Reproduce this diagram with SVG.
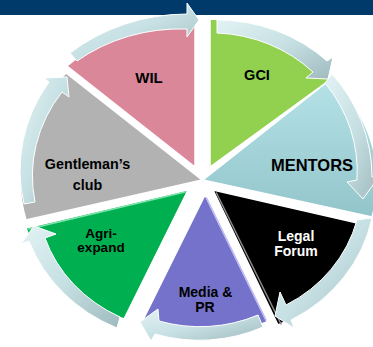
<svg xmlns="http://www.w3.org/2000/svg" width="373" height="347" viewBox="0 0 373 347">
  <defs>
    <linearGradient id="teal" x1="0" y1="0" x2="0" y2="1">
      <stop offset="0" stop-color="#B5E2E7"/>
      <stop offset="1" stop-color="#92C5CB"/>
    </linearGradient>
    <linearGradient id="arr" x1="0" y1="0" x2="1" y2="1">
      <stop offset="0" stop-color="#E2F2F4"/>
      <stop offset="0.5" stop-color="#C6E0E3"/>
      <stop offset="1" stop-color="#9FBABE"/>
    </linearGradient>
    <style>
      .w { stroke: #ffffff; stroke-width: 1.5; stroke-linejoin: round; }
      .hl { fill: none; stroke-width: 1.5; stroke-linecap: round; }
      .a { fill: url(#arr); stroke: #ffffff; stroke-width: 1; stroke-linejoin: round; }
      .t { font-family: "Liberation Sans", Arial, sans-serif; font-weight: bold; text-anchor: middle; fill: #000; }
      .wt { fill: #ffffff; }
    </style>
  </defs>
  <rect x="0" y="0" width="373" height="347" fill="#ffffff"/>
  <rect id="header" x="0" y="0" width="373" height="15" fill="#003A6B"/>

  <g id="node-wil">
    <path class="w" fill="#DB879A" d="M195,167 L67,66 A175,148 0 0 1 195,19 Z"/>
    <text class="t" x="149" y="83" font-size="15">WIL</text>
  </g>
  <g id="node-gci">
    <path class="w" fill="#92D050" d="M210,167 L210,19 A155,148 0 0 1 331,79 Z"/>
    <text class="t" x="257" y="80" font-size="14.5">GCI</text>
  </g>
  <g id="node-mentors">
    <path class="w" fill="url(#teal)" d="M203,180 L331,79 A175,150 0 0 1 372,217 Z"/>
    <text class="t" x="312" y="171" font-size="16.5">MENTORS</text>
  </g>
  <g id="node-legal">
    <path class="w" fill="#000000" d="M213,190 L366,225 A158,148 0 0 1 278,325 Z"/>
    <path class="hl" stroke="#8A8A8A" d="M216.5,193 L281,324"/>
    <text class="t wt" x="296" y="241" font-size="14">Legal</text>
    <text class="t wt" x="296" y="256" font-size="14">Forum</text>
  </g>
  <g id="node-media">
    <path class="w" fill="#7572CC" d="M205,195 L267,322 A150,140 0 0 1 142,322 Z"/>
    <path class="hl" stroke="#B9B7F2" d="M206.5,198 L266,320"/>
    <text class="t" x="205.5" y="297" font-size="14">Media &amp;</text>
    <text class="t" x="205" y="312" font-size="14">PR</text>
  </g>
  <g id="node-agri">
    <path class="w" fill="#00B050" d="M188,190 L124,319 A168,140 0 0 1 26,228 Z"/>
    <path class="hl" stroke="#7FE3AC" d="M185,192 L29,229"/>
    <text class="t" x="101" y="238" font-size="13.5">Agri-</text>
    <text class="t" x="101" y="252" font-size="13.5">expand</text>
  </g>
  <g id="node-gentleman">
    <path class="w" fill="#B2B2B2" d="M202,180 L26,220 A182,160 0 0 1 66,73 Z"/>
    <text class="t" x="87.5" y="169" font-size="14.3">Gentleman’s</text>
    <text class="t" x="87.5" y="190" font-size="14.3">club</text>
  </g>

  <g id="connectors">
    <path class="a" d="M70,53 A180,160 0 0 1 187,14 L187,3 L199,20 L187,37 L187,29 A165,145 0 0 0 77,61 Z"/>
    <path class="a" d="M217,20 A160,150 0 0 1 327,61 L333,57 L328,79 L306,78 L313,72 A145,135 0 0 0 217,33 Z"/>
    <path class="a" d="M332,74 A170,160 0 0 1 372,177 L380,175 L363,199 L347,182 L357,180 A155,145 0 0 0 325,83 Z"/>
    <path class="a" d="M372,218 A160,150 0 0 1 291,320 L294,328 L275,316 L280,292 L286,305 A145,135 0 0 0 357,220 Z"/>
    <path class="a" d="M263,327 A150,140 0 0 1 155,334 L151,341 L140,322 L158,309 L159,321 A140,130 0 0 0 258,315 Z"/>
    <path class="a" d="M117,328 A165,150 0 0 1 29,241 L21,244 L34,226 L56,234 L45,238 A150,135 0 0 0 120,317 Z"/>
    <path class="a" d="M24,204 A175,160 0 0 1 49,82 L44,78 L67,77 L69,97 L62,92 A160,145 0 0 0 35,202 Z"/>
  </g>
</svg>
